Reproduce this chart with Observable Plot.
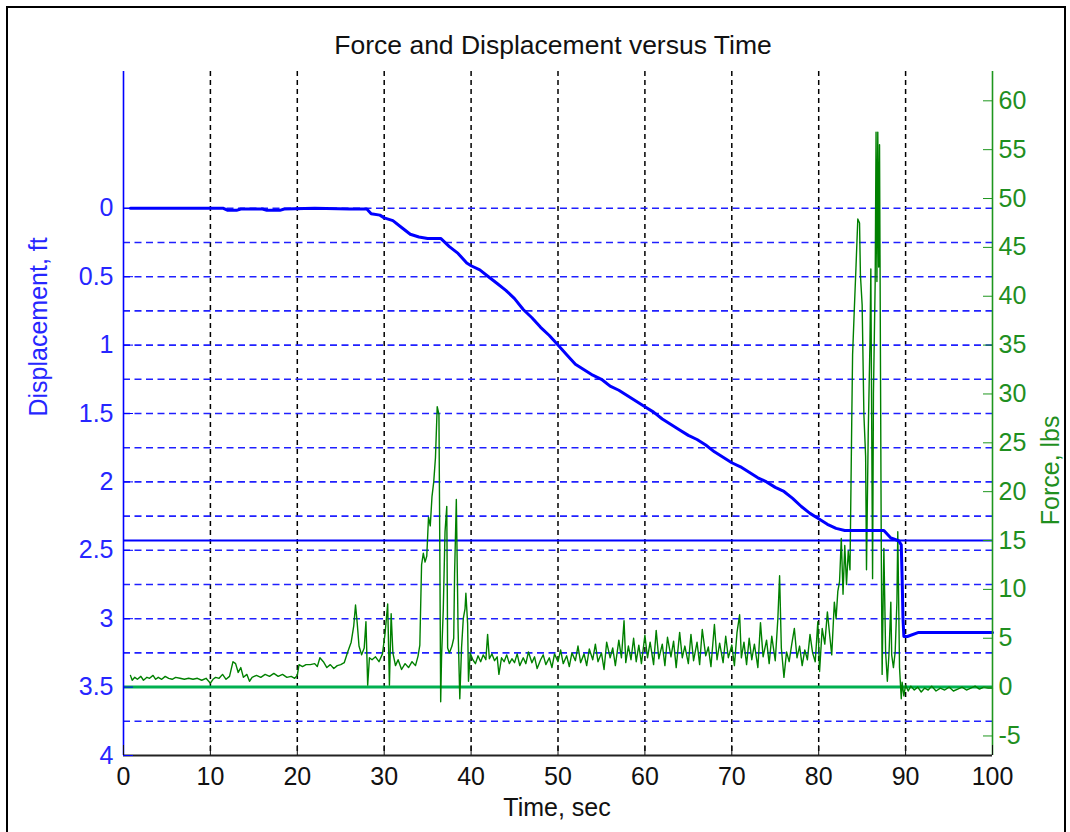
<!DOCTYPE html>
<html><head><meta charset="utf-8">
<script src="https://cdn.jsdelivr.net/npm/d3@7"></script>
<script src="https://cdn.jsdelivr.net/npm/@observablehq/plot@0.6"></script>
<style>
html,body{margin:0;padding:0;background:#fff;}
#wrap{position:relative;width:1070px;height:832px;overflow:hidden;}
#frame{position:absolute;left:6px;top:6px;width:1060px;height:840px;border:2px solid #000;box-sizing:border-box;pointer-events:none;}
</style></head><body><div id="wrap"><div id="chart"></div><div id="frame"></div></div>
<script>
const titleText = "Force and Displacement versus Time";
const xLabel = "Time, sec";
const leftLabel = "Displacement, ft";
const rightLabel = "Force, lbs";

const timeTicks = [0,10,20,30,40,50,60,70,80,90,100];
const timeGrid = [10,20,30,40,50,60,70,80,90];
const dispTicks = [0,0.5,1,1.5,2,2.5,3,3.5,4];
const dispGrid = [0,0.25,0.5,0.75,1,1.25,1.5,1.75,2,2.25,2.5,2.75,3,3.25,3.5,3.75];
const forceTicks = [-5,0,5,10,15,20,25,30,35,40,45,50,55,60];
const thresholdForce = 15;

// Displacement (ft) vs time (sec)
const dispT = [0.8,5,10,11.5,12,13,13.5,16,16.5,18,18.5,22,26,28,28.5,29.5,30,31,32,33,34,35,36.5,37.5,38.5,39.5,40,41,42,43,44,45,46,47,48,49,50,51,52,53,54,55,56,57,58,59,60,61,62,63,64,65,66,67,68,69,70,71,72,73,74,75,76,77,78,79,80,81,82,83,87.5,88.3,89.2,89.5,89.6,89.7,89.8,90.2,91.5,100];
const dispV = [0,0,0,0,0.015,0.015,0.005,0.005,0.015,0.015,0.005,0,0.005,0.005,0.04,0.05,0.07,0.09,0.14,0.19,0.21,0.22,0.22,0.28,0.33,0.4,0.42,0.45,0.5,0.55,0.6,0.66,0.74,0.8,0.87,0.93,1.0,1.07,1.14,1.18,1.22,1.25,1.3,1.33,1.37,1.41,1.45,1.49,1.54,1.58,1.62,1.66,1.69,1.73,1.78,1.82,1.86,1.89,1.93,1.97,2.0,2.04,2.07,2.12,2.18,2.23,2.27,2.31,2.34,2.355,2.355,2.41,2.43,2.46,2.7,3.0,3.13,3.13,3.1,3.1];

// Force (lbs) vs time (sec)
const forceT = [0.8,1.0,1.3,1.6,2.0,2.3,2.7,3.0,3.4,3.7,4.0,4.4,4.8,5.2,5.6,6.0,6.5,7.0,7.5,8.0,8.5,9.0,9.5,10.0,10.3,10.6,11.0,11.4,11.8,12.2,12.6,12.9,13.2,13.5,13.8,14.2,14.5,14.8,15.3,15.8,16.3,16.8,17.3,17.8,18.3,18.8,19.3,19.7,20.0,20.2,20.6,21.0,21.5,22.0,22.3,22.6,23.0,23.4,23.8,24.2,24.6,25.0,25.4,25.8,26.2,26.5,26.7,26.9,27.1,27.4,27.7,27.9,28.0,28.1,28.3,28.6,29.0,29.4,29.8,30.1,30.4,30.6,30.8,31.0,31.3,31.6,32.0,32.4,32.8,33.2,33.6,33.9,34.1,34.3,34.5,34.7,34.9,35.1,35.3,35.5,35.7,35.9,36.1,36.3,36.4,36.5,36.6,36.8,37.0,37.2,37.3,37.5,37.8,38.0,38.1,38.3,38.5,38.7,38.9,39.1,39.3,39.4,39.6,39.7,39.9,40.2,40.5,40.8,41.1,41.4,41.7,41.9,42.1,42.4,42.7,43.0,43.2,43.5,43.8,44.1,44.4,44.7,45.0,45.3,45.6,46.0,46.3,46.6,47.0,47.3,47.6,48.0,48.3,48.6,49.0,49.3,49.6,50.0,50.3,50.6,51.0,51.3,51.6,52.0,52.3,52.6,53.0,53.3,53.6,54.0,54.3,54.6,55.0,55.3,55.6,56.0,56.3,56.6,57.0,57.3,57.6,57.8,58.1,58.4,58.7,59.0,59.3,59.6,60.0,60.3,60.6,61.0,61.3,61.6,62.0,62.3,62.6,63.0,63.3,63.6,64.0,64.3,64.6,65.0,65.3,65.6,66.0,66.3,66.6,67.0,67.3,67.6,68.0,68.3,68.6,69.0,69.3,69.6,70.0,70.3,70.6,70.9,71.1,71.4,71.7,72.0,72.3,72.6,73.0,73.3,73.6,74.0,74.3,74.6,75.0,75.3,75.5,75.7,76.0,76.3,76.6,76.9,77.2,77.5,77.8,78.1,78.4,78.7,79.0,79.3,79.6,79.9,80.1,80.4,80.7,81.0,81.3,81.5,81.8,82.0,82.2,82.4,82.6,82.8,83.0,83.2,83.4,83.6,83.8,83.9,84.1,84.3,84.5,84.7,84.8,85.0,85.2,85.4,85.5,85.7,85.9,86.0,86.2,86.3,86.5,86.6,86.7,86.8,86.9,87.0,87.2,87.3,87.5,87.7,87.9,88.1,88.3,88.4,88.6,88.8,89.0,89.1,89.3,89.5,89.6,89.8,90.0,90.3,90.6,91.0,91.4,91.8,92.2,92.6,93.0,93.5,94.0,94.5,95.0,95.5,96.0,96.5,97.0,97.5,98.0,98.5,99.0,99.5,100];
const forceV = [1.2,0.7,1.0,0.8,1.1,0.7,1.0,0.9,1.2,0.8,1.0,0.8,1.1,0.9,0.8,1.0,0.9,0.8,0.9,0.8,0.9,0.7,0.9,0.4,0.8,1.0,0.9,1.3,0.8,1.1,2.6,2.4,1.5,2.0,1.0,1.3,0.6,1.0,1.2,1.0,1.3,1.1,1.4,1.1,1.3,1.0,1.1,0.9,1.2,2.3,2.1,2.3,2.3,2.4,2.1,3.0,2.6,2.0,2.3,1.9,2.2,2.3,2.5,3.6,4.6,6.3,8.4,6.5,4.2,3.3,4.0,6.7,3.5,0.2,3.0,2.8,3.1,2.6,3.4,5.5,8.5,0.2,7.5,3.5,2.2,2.8,1.8,2.4,2.0,2.6,2.2,3.2,4.3,12.5,13.7,12.8,13.4,17.4,16.5,19.5,21.0,23.5,28.7,27.9,14.0,-1.5,3.0,8.0,15.9,18.5,4.0,3.5,4.2,5.0,11.6,19.2,6.0,-1.2,4.0,7.0,8.0,9.6,6.5,0.6,3.5,2.8,2.4,3.2,2.6,3.3,2.8,5.4,2.9,3.4,2.7,3.1,1.3,3.0,2.6,3.3,2.4,2.9,2.5,3.4,2.2,3.0,2.4,3.6,2.5,3.1,1.9,2.8,3.3,2.3,3.0,2.0,3.4,2.6,3.8,2.4,3.2,2.1,3.5,2.7,4.2,2.5,3.4,2.2,3.9,2.8,4.4,2.6,3.5,1.8,4.6,3.0,4.0,2.2,4.8,3.0,6.8,2.5,4.2,2.8,5.0,2.6,4.3,2.4,5.3,3.0,4.6,2.3,5.8,2.9,4.4,2.2,5.1,3.1,4.7,2.0,5.6,3.0,4.2,2.4,5.4,2.7,4.6,2.3,5.9,3.2,4.1,2.1,6.4,2.8,4.5,2.5,5.2,3.0,4.3,2.2,5.6,7.4,3.0,4.6,2.3,5.0,2.8,4.4,2.0,6.6,3.1,4.8,2.4,5.2,2.7,7.0,11.4,4.0,1.0,3.6,2.6,4.4,6.0,3.0,4.2,2.2,3.8,2.8,5.4,3.5,2.6,6.7,1.6,6.0,4.4,7.7,5.0,3.3,8.7,7.0,9.8,10.8,15.2,9.5,14.5,10.5,13.9,12.0,27.0,34.0,38.7,43.2,47.9,47.5,42.2,39.1,27.9,23.6,12.0,26.0,35.3,42.8,11.1,30.0,41.5,56.8,41.5,56.8,43.0,55.5,14.2,1.3,14.2,3.6,0.6,3.6,8.7,3.3,2.0,3.6,8.7,15.9,2.0,-1.2,0.5,-0.9,0.2,-0.4,0.1,-0.3,0.0,-0.5,-0.1,-0.3,0.1,-0.4,-0.1,-0.3,0.0,-0.4,-0.2,0.0,-0.3,-0.1,0.1,-0.2,0.0,-0.1,-0.1];

// Force is drawn on the displacement frame: 0 lbs ↔ 3.5 ft, 14 lbs per ft
const toD = f => 3.5 - f / 14;
const dispRows = dispT.map((t, i) => ({t, d: dispV[i]}));
const forceRows = forceT.map((t, i) => ({t, d: toD(forceV[i])}));

const BLUE = "#0000ff", BLUE_TXT = "#2626ff", GREEN_AX = "#1e961e", GREEN_TXT = "#1f8f1f";
const FS = 25;

const chart = Plot.plot({
  width: 1070, height: 832,
  marginLeft: 123, marginRight: 78, marginTop: 71, marginBottom: 77,
  style: {fontFamily: "'Liberation Sans', Arial, sans-serif", fontSize: FS + "px", background: "white"},
  x: {domain: [0, 100]},
  y: {domain: [-1, 4], reverse: true},
  marks: [
    Plot.ruleX(timeGrid, {stroke: "#000", strokeDasharray: "5,4", strokeWidth: 1.5}),
    Plot.ruleY(dispGrid, {stroke: "#2020ff", strokeDasharray: "7,4.5", strokeWidth: 1.6}),
    Plot.ruleY([toD(thresholdForce)], {stroke: BLUE, strokeWidth: 2}),
    Plot.ruleY([toD(0)], {stroke: "#00b050", strokeWidth: 3}),
    Plot.line(forceRows, {x: "t", y: "d", stroke: "#008000", strokeWidth: 1.4}),
    Plot.line(dispRows, {x: "t", y: "d", stroke: BLUE, strokeWidth: 3}),
    Plot.ruleX([0], {stroke: BLUE, strokeWidth: 1.6}),
    Plot.ruleX([100], {stroke: GREEN_AX, strokeWidth: 1.6}),
    Plot.ruleY([4], {stroke: "#222", strokeWidth: 2}),
    // inward tick marks
    Plot.axisX({ticks: timeTicks, tickSize: 10, dy: -10, tickFormat: () => "", stroke: "#111", label: null}),
    Plot.axisY({anchor: "left", ticks: dispTicks, tickSize: 10, dx: 10, tickFormat: () => "", stroke: BLUE, label: null}),
    Plot.axisY({anchor: "right", ticks: forceTicks.map(toD), tickSize: 10, dx: -10, tickFormat: () => "", stroke: GREEN_AX, label: null}),
    // tick labels
    Plot.axisX({ticks: timeTicks, tickSize: 0, tickPadding: 12, fill: "#111", fontSize: FS, label: null}),
    Plot.axisY({anchor: "left", ticks: dispTicks, tickSize: 0, tickPadding: 10, tickFormat: d => String(d), fill: BLUE_TXT, fontSize: FS, label: null}),
    Plot.axisY({anchor: "right", ticks: forceTicks.map(toD), tickSize: 0, tickPadding: 6, tickFormat: d => String(Math.round(14 * (3.5 - d))), fill: GREEN_TXT, fontSize: FS, label: null}),
    // titles
    Plot.text([titleText], {text: d => d, frameAnchor: "top", dx: -5, dy: -18, lineAnchor: "bottom", fill: "#111", fontSize: 26.5}),
    Plot.text([xLabel], {text: d => d, frameAnchor: "bottom", dx: -1, dy: 60, lineAnchor: "bottom", fill: "#111", fontSize: FS}),
    Plot.text([leftLabel], {text: d => d, frameAnchor: "left", rotate: -90, dx: -77, dy: 3, lineAnchor: "bottom", fill: BLUE_TXT, fontSize: FS}),
    Plot.text([rightLabel], {text: d => d, frameAnchor: "right", rotate: -90, dx: 66, dy: 2, lineAnchor: "bottom", fill: GREEN_TXT, fontSize: FS})
  ]
});
document.getElementById("chart").appendChild(chart);
</script>
</body></html>
